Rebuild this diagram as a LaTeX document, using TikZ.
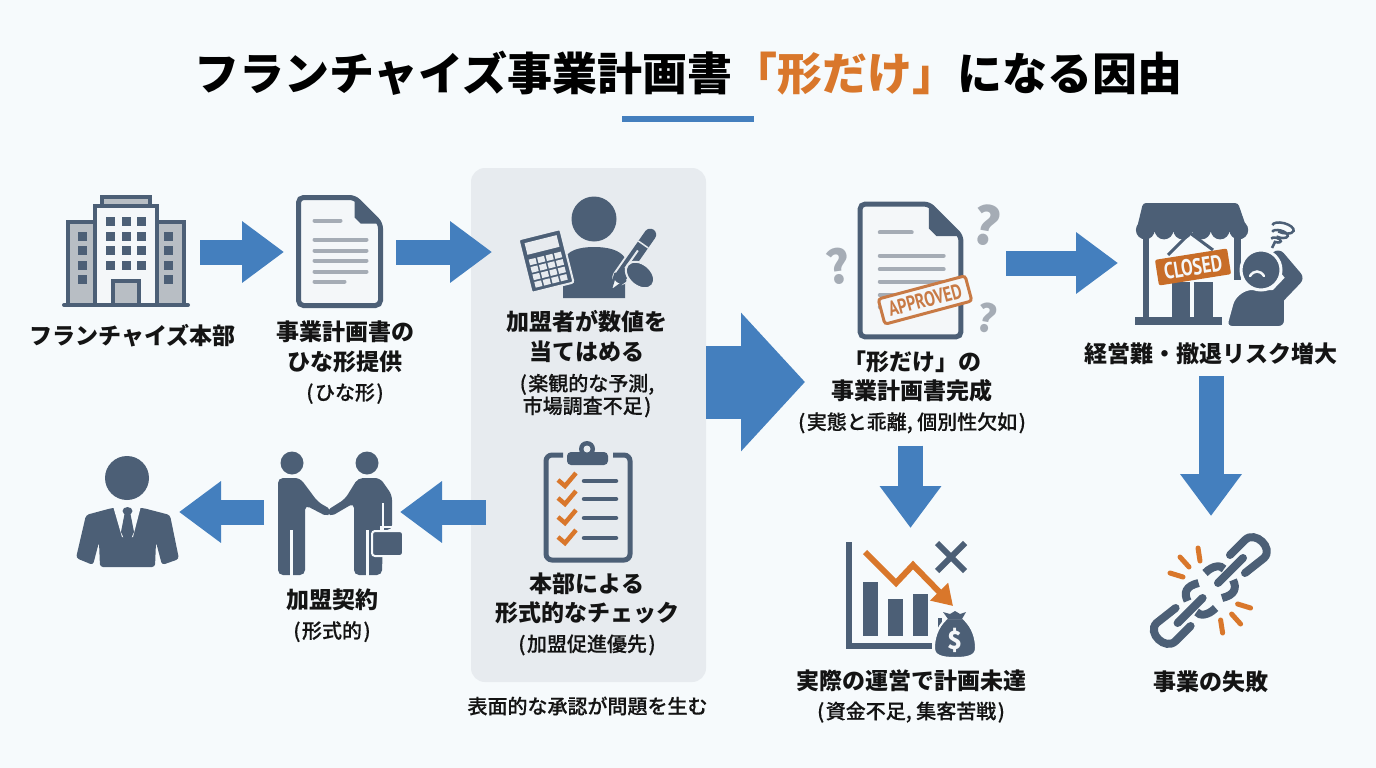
\documentclass[tikz,border=0pt]{standalone}
\usepackage{fontspec}
\setmainfont{Noto Sans CJK JP}
\newfontfamily\subfont{Noto Sans CJK JP}[UprightFont=* Medium,FakeBold=0.3]
\newfontfamily\stampfont{PT Sans}
\usetikzlibrary{arrows.meta,positioning,shapes.geometric}
\definecolor{pagebg}{HTML}{F6FAFC}
\definecolor{panelgray}{HTML}{E7EBEF}
\definecolor{slate}{HTML}{4C5F76}
\definecolor{flowblue}{HTML}{447FBE}
\definecolor{accent}{HTML}{D9772B}
\definecolor{stampbrown}{HTML}{C87A45}
\definecolor{softgray}{HTML}{A5ACB5}
\definecolor{wingray}{HTML}{B8BEC4}
\definecolor{paper}{HTML}{F4F7F9}
\newcommand{\subl}[1]{{\fontsize{20}{24}\subfont\mdseries #1}}
\newcommand{\lpar}{(\kern1.5pt}
\newcommand{\rpar}{\kern1.5pt)}
\tikzset{
 lab/.style={align=center,inner sep=0pt,text=black!92,font=\fontsize{23}{29.5}\selectfont\bfseries},
 iconbox/.style 2 args={minimum width=#1pt,minimum height=#2pt,inner sep=0pt,outer sep=0pt},
 flow/.style={draw=flowblue,line width=25pt,-{Triangle[length=42pt,width=59pt]}},
 bigflow/.style={draw=flowblue,line width=73pt,-{Triangle[length=64pt,width=135pt]}},
 txtline/.style={draw=softgray,line width=4pt,line cap=round},
 ink/.style={draw=slate,line width=4pt},
 docicon/.pic={
  \filldraw[fill=paper,draw=slate,line width=5pt,rounded corners=5pt] (-41,-54) -- (15,-54) -- (41,-28) -- (41,54) -- (-41,54) -- cycle;
  \fill[slate] (15,-55) -- (42,-28) -- (21,-28) -- (15,-34) -- cycle;
  \draw[txtline] (-25,-31) -- (1,-31);
  \foreach \y in {-12,-1,9,20} \draw[txtline] (-25,\y) -- (27,\y);
  \draw[txtline] (-25,30) -- (5,30);
 },
}
\begin{document}
\begin{tikzpicture}[x=1pt,y=-1pt]
 \useasboundingbox (0,0) rectangle (1376,768);
 \fill[pagebg] (0,0) rectangle (1376,768);

 % panel
 \node (panel) at (588.5,425) [iconbox={235}{514},fill=panelgray,rounded corners=14pt] {};

 % title
 \node (title) at (688.5,73) [inner sep=0pt,text=black,font=\fontsize{45}{50}\selectfont\bfseries] {フランチャイズ事業計画書{\color{accent}「形だけ」}になる因由};
 \fill[flowblue] (622,116) rectangle (754,122);

 % anchors of the icons
 \node (hq) at (127,252) [iconbox={146}{110}] {};
 \node (tmpl) at (340,252) [iconbox={112}{110}] {};
 \node (calc) at (587,252) [iconbox={190}{100}] {};
 \node (resdoc) at (905.5,263) [iconbox={201}{140}] {};
 \node (shop) at (1225,263) [iconbox={214}{124}] {};
 \node (check) at (587,512) [iconbox={202}{110}] {};
 \node (deal) at (332,512) [iconbox={136}{124}] {};
 \node (client) at (127,512) [iconbox={104}{110}] {};
 \node (chart) at (910.5,590) [iconbox={130}{124}] {};
 \node (ring) at (1211,590) [iconbox={124}{148}] {};
 \coordinate (bigin) at (0,382);

 % headquarters
 \filldraw[fill=wingray,ink] (68,222) rectangle (95,305);
 \filldraw[fill=wingray,ink] (157,222) rectangle (184,305);
 \filldraw[fill=wingray,ink] (102,197) rectangle (150,206);
 \filldraw[fill=paper,ink] (95,206) rectangle (157,305);
 \filldraw[fill=wingray,ink] (113,281) rectangle (139,305);
 \draw[slate,line width=4pt,line cap=round] (64,305) -- (188,305);
 \foreach \x in {106,122,137} \foreach \y in {217,232,246,261} \fill[slate] (\x,\y) rectangle ++(9,9);
 \foreach \x in {78,164} \foreach \y in {232,246,261,275} \fill[slate] (\x,\y) rectangle ++(9,9);

 % template
 \pic at (339.5,251.5) {docicon};

 % person with calculator
 \fill[slate] (594,219) circle (22.5);
 \fill[slate] (563,298) -- (563,262) .. controls (566,250) and (580,247) .. (594,247) .. controls (608,247) and (620,250) .. (625,258) -- (625,298) -- cycle;
 \begin{scope}[shift={(518.5,239.5)},rotate=14]
  \filldraw[fill=slate,draw=panelgray,line width=2pt,rounded corners=2pt] (0,0) rectangle (43,55);
  \fill[panelgray] (5,5) rectangle (38,17);
  \foreach \i in {0,1,2,3} \foreach \j in {0,1,2,3} \fill[panelgray] ({5+\i*8.7},{22+\j*7.7}) rectangle ++(7,5.8);
 \end{scope}
 \begin{scope}[shift={(610,292)},rotate=55]
  \draw[panelgray,line width=16pt,line cap=round] (18,0) -- (70,0);
  \filldraw[fill=paper,draw=slate,line width=2.5pt,line join=round] (0,0) -- (18,-6) -- (18,6) -- cycle;
  \draw[slate,line width=12pt,line cap=round] (18,0) -- (70,0);
  \draw[panelgray,line width=2pt] (28,-1) -- (50,-1);
  \draw[panelgray,line width=1.5pt] (58,-6) -- (58,6);
 \end{scope}
 \filldraw[fill=slate,draw=panelgray,line width=2pt,rotate around={-40:(640,275)}] (640,275) ellipse [x radius=16,y radius=11];

 % checklist
 \draw[slate,line width=5pt,rounded corners=6pt] (563,455) -- (546,455) -- (546,560) -- (630,560) -- (630,455) -- (613,455);
 \fill[slate,rounded corners=4pt] (567,452) rectangle (608,465);
 \fill[slate] (587,449) circle (8);
 \fill[panelgray] (587,449) circle (3.5);
 \foreach \y in {480,498,517,537} {
  \draw[accent,line width=4.5pt] (558,\y) -- (565,\y+6) -- (576,\y-7);
  \draw[slate,line width=4.5pt,line cap=round] (584,\y+1) -- (616,\y+1);
 }

 % handshake
 \fill[slate] (292,463) circle (11.5);
 \fill[slate] (367,463) circle (11.5);
 \fill[slate,rounded corners=5pt] (278,575) -- (278,478) -- (300,478) -- (318,502) -- (332,510) -- (328,517) -- (305,505) -- (305,575) -- cycle;
 \draw[pagebg,line width=3pt] (291.5,530) -- (291.5,577);
 \fill[slate,rounded corners=5pt] (354,575) -- (354,503) -- (330,517) -- (326,511) -- (345,499) -- (358,478) -- (380,478) -- (392,495) -- (392,530) -- (383,530) -- (382,575) -- cycle;
 \draw[pagebg,line width=3pt] (367.5,530) -- (367.5,577);
 \draw[pagebg,line width=2pt] (383,503) -- (383,530);
 \filldraw[fill=slate,draw=pagebg,line width=2pt,rounded corners=3pt] (372,531) rectangle (403,556);
 \draw[pagebg,line width=2pt] (381,531) -- (381,527) -- (395,527) -- (395,531);

 % client
 \fill[slate] (127,478) circle (22);
 \fill[slate,rounded corners=3pt] (112,508) -- (86,515) -- (76,558) -- (93,565) -- (99,542) -- (100,567) -- (155,567) -- (156,542) -- (162,565) -- (179,559) -- (170,515) -- (143,508) -- cycle;
 \fill[pagebg] (113,506) -- (141,506) -- (133,537) -- (122,537) -- cycle;
 \fill[slate] (127.5,511) ellipse [x radius=5,y radius=4];
 \fill[slate] (124.5,514) -- (130.5,514) -- (134,532) -- (127.5,546) -- (121,532) -- cycle;

 % result document
 \pic[scale=1.23] at (910.5,270.5) {docicon};
 \node (stamp) at (925,300) [rotate=15,draw=stampbrown,fill=paper,line width=3pt,rounded corners=3pt,minimum width=90pt,minimum height=26pt,inner sep=0pt,text=stampbrown,font=\fontsize{21}{21}\stampfont\bfseries] {\scalebox{.76}[1]{APPROVED}};
 \node (q1) at (987,225) [inner sep=0pt,rotate=-10,text=softgray,font=\fontsize{52}{52}\selectfont\bfseries] {?};
 \node (q2) at (838,266) [inner sep=0pt,rotate=8,text=softgray,font=\fontsize{46}{46}\selectfont\bfseries] {?};
 \node (q3) at (987,318) [inner sep=0pt,rotate=-10,text=softgray,font=\fontsize{38}{38}\selectfont\bfseries] {?};

 % shop
 \fill[slate,rounded corners=3pt] (1143,203) -- (1238,203) -- (1248,232) -- (1136,232) -- cycle;
 \foreach \i in {0,...,5} \fill[slate] ({1145.3+\i*18.7},230) circle (9.4);
 \fill[slate] (1143,238) rectangle (1149,318);
 \fill[slate] (1234,238) rectangle (1241,280);
 \fill[slate] (1135,317) rectangle (1222,325);
 \fill[slate] (1172,282) rectangle (1190,317);
 \fill[slate] (1194,282) rectangle (1213,317);
 \draw[slate,line width=3pt] (1168,255) -- (1190,233) -- (1213,250);
 \node (sign) at (1193,267) [rotate=9,fill=accent!92!black,rounded corners=2pt,minimum width=73pt,minimum height=26pt,inner sep=0pt,text=paper,font=\fontsize{23}{23}\stampfont\bfseries] {\scalebox{.76}[1]{CLOSED}};
 \filldraw[fill=slate,draw=pagebg,line width=2pt,rounded corners=6pt] (1226,327) -- (1234,298) -- (1246,289) -- (1285,289) -- (1285,327) -- cycle;
 \draw[slate,line width=15pt,line cap=round,line join=round] (1272,302) -- (1295,278) -- (1278,258);
 \filldraw[fill=slate,draw=pagebg,line width=3pt] (1261,270) circle (20);
 \draw[paper,line width=2.5pt,line cap=round] (1250,276) .. controls (1254,270) and (1260,270) .. (1264,276);
 \foreach \cx/\cy/\r in {1283/228/11,1280/234/8,1276/240/5}
  \draw[slate,line width=2.5pt,rotate around={-15:(\cx,\cy)}] ({\cx-\r},\cy) arc [start angle=180,end angle=470,x radius=\r,y radius=\r*.45];
 \draw[slate,line width=2.5pt] (1275,242) -- (1272,248);

 % chart
 \draw[slate,line width=6pt] (849,542) -- (849,646) -- (932,646);
 \fill[slate] (863,582) rectangle (878,636);
 \fill[slate] (888,599) rectangle (903,636);
 \fill[slate] (913,594) rectangle (928,636);
 \fill[slate] (938,618) rectangle (942,630);
 \draw[accent,line width=6pt,-{Triangle[length=20pt,width=24pt]}] (865,552) -- (896,583) -- (913,565) -- (953,606);
 \draw[slate,line width=6pt] (937,543) -- (965,571) (965,543) -- (937,571);
 \filldraw[fill=slate,draw=pagebg,line width=2pt] (947,618) .. controls (936,628) and (934,640) .. (934,648) .. controls (934,656) and (942,658) .. (955,658) .. controls (968,658) and (976,656) .. (976,648) .. controls (976,640) and (974,628) .. (963,618) -- cycle;
 \fill[slate] (943,612) -- (950,614) -- (955,611) -- (960,614) -- (966,612) -- (962,619) -- (948,619) -- cycle;
 \node (dollar) at (955,640) [inner sep=0pt,text=paper,font=\fontsize{25}{25}\selectfont\bfseries] {\$};

 % broken chain
 \foreach \r in {0,180} {
  \begin{scope}[rotate around={\r:(1210.3,590.5)}]
   \draw[slate,line width=8pt,line cap=round] (1230,555) -- (1245,540) .. controls (1255,530) and (1274,548) .. (1264,558) -- (1245,573);
   \draw[slate,line width=8pt,line cap=round] (1218,583) -- (1243,558);
   \draw[slate,line width=8pt] (1205,573) .. controls (1213,565) and (1221,565) .. (1224,569);
   \draw[slate,line width=8pt] (1233,580) .. controls (1237,588) and (1235,595) .. (1222,598);
   \draw[accent,line width=5pt,line cap=round] (1198,548) -- (1200,561);
   \draw[accent,line width=5pt,line cap=round] (1180,557) -- (1189,567);
   \draw[accent,line width=5pt,line cap=round] (1170,573) -- (1183,577);
  \end{scope}
 }

 % labels
 \node (hqlab) at (132.5,336) [lab] {フランチャイズ本部};
 \node (tmpllab) at (345,362.5) [lab] {事業計画書の\\ひな形提供\\\subl{\lpar ひな形\rpar}};
 \node (calclab) at (587,364) [lab] {加盟者が数値を\\当てはめる\\[1pt]\subl{\lpar 楽観的な予測,}\\[-7pt]\subl{市場調査不足\rpar}};
 \node (checklab) at (587,614) [lab] {本部による\\形式的なチェック\\\subl{\lpar 加盟促進優先\rpar}};
 \node (deallab) at (332,615.5) [lab] {加盟契約\\\subl{\lpar 形式的\rpar}};
 \node (reslab) at (912,392) [lab] {「形だけ」の\\事業計画書完成\\\subl{\lpar 実態と乖離, 個別性欠如\rpar}};
 \node (shoplab) at (1210.5,354) [lab] {経営難・撤退リスク増大};
 \node (chartlab) at (911,696) [lab] {実際の運営で計画未達\\\subl{\lpar 資金不足, 集客苦戦\rpar}};
 \node (ringlab) at (1210.5,682) [lab] {事業の失敗};
 \node (panellab) at (587.5,706) [inner sep=0pt,text=black!92,font=\fontsize{20}{24}\subfont] {表面的な承認が問題を生む};

 % connectors
 \draw[flow] (hq.east) -- (tmpl.west);
 \draw[flow] (tmpl.east) -- (calc.west);
 \draw[bigflow] (panel.east |- bigin) -- (resdoc.west |- bigin);
 \draw[flow] (resdoc.east) -- (shop.west);
 \draw[flow,shorten <=11pt] (ring.north |- shoplab.south) -- (ring.north);
 \draw[flow,shorten <=12pt] (chart.north |- reslab.south) -- (chart.north);
 \draw[flow] (check.west) -- (deal.east);
 \draw[flow] (deal.west) -- (client.east);
\end{tikzpicture}
\end{document}
